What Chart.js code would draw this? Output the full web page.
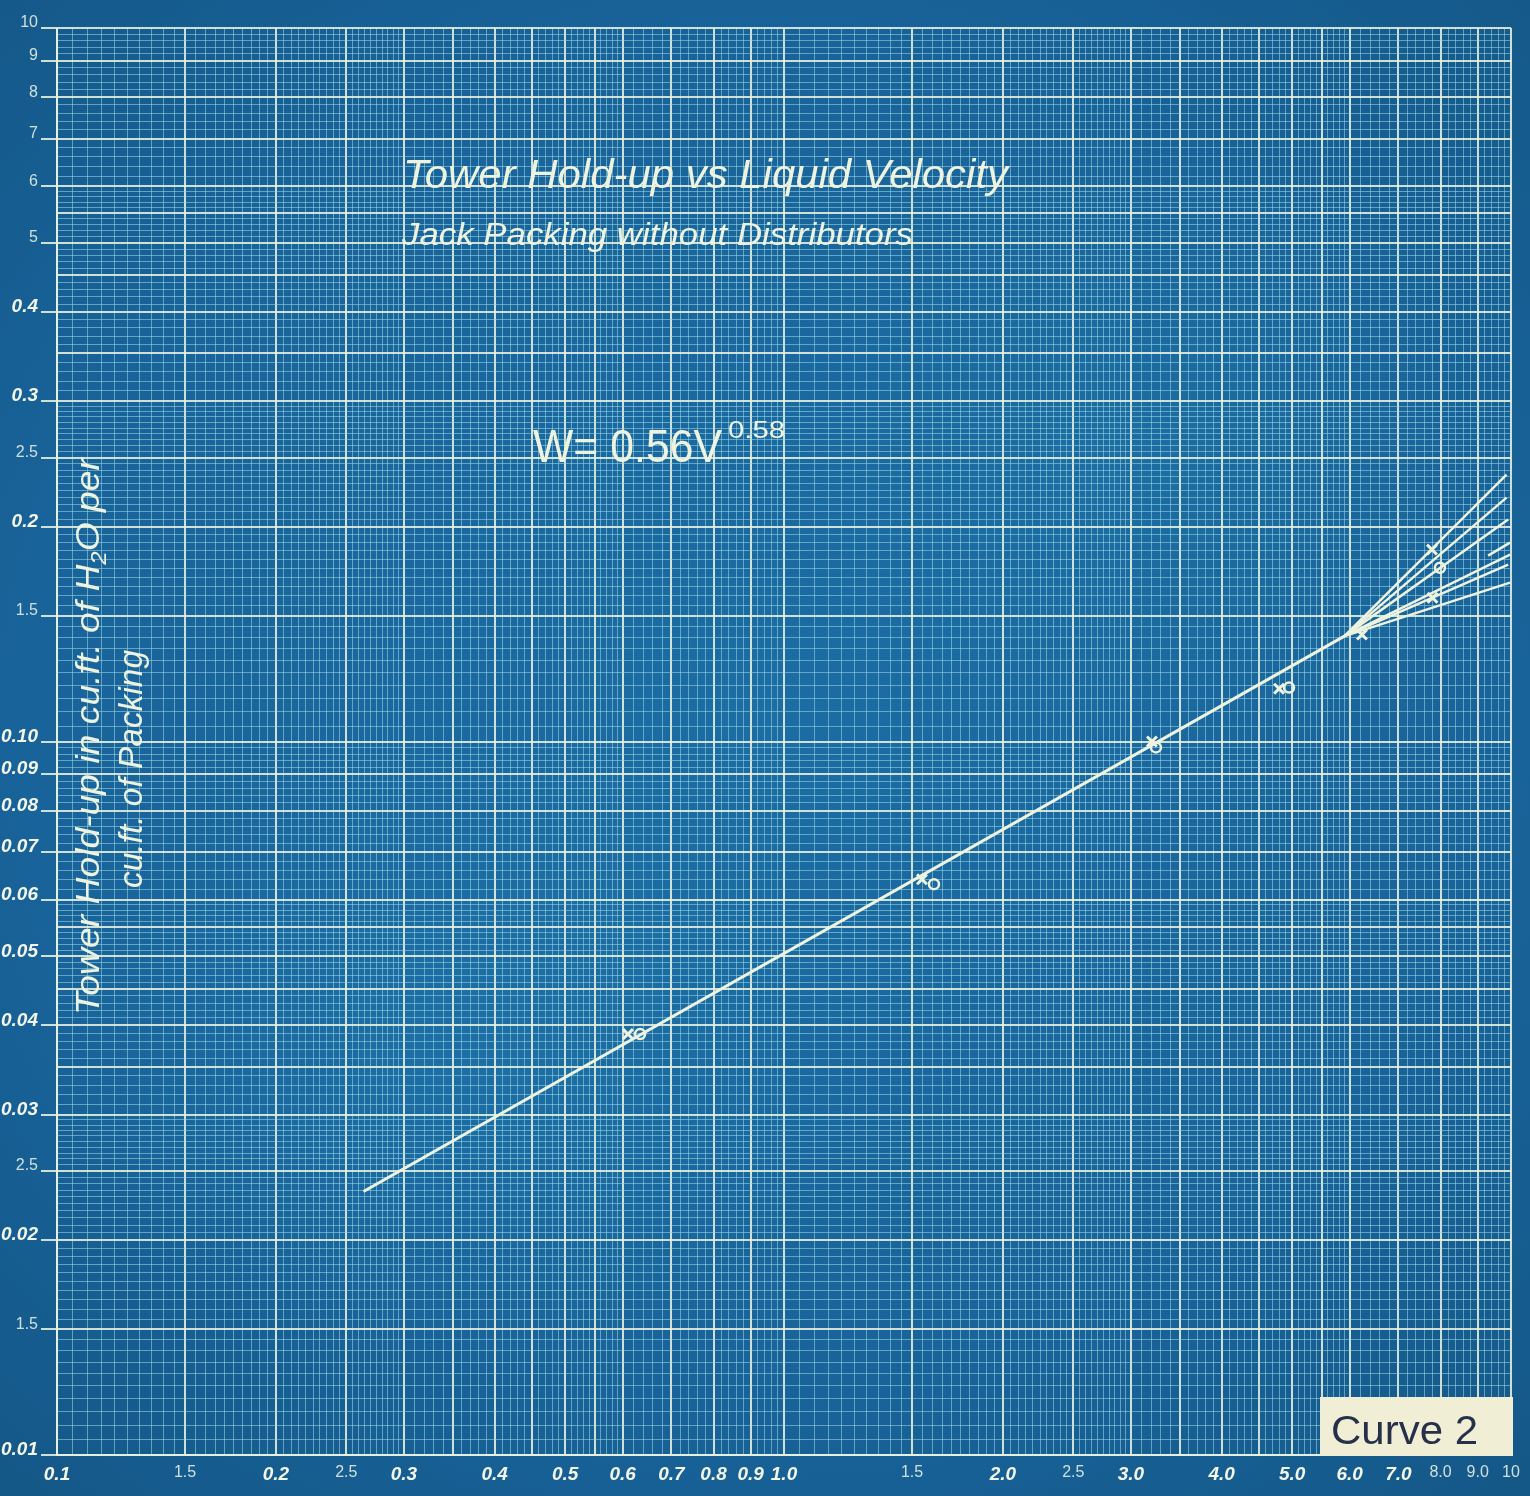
<!DOCTYPE html>
<html>
<head>
<meta charset="utf-8">
<title>Tower Hold-up vs Liquid Velocity</title>
<script src="https://cdn.jsdelivr.net/npm/chart.js@4.4.1/dist/chart.umd.min.js"></script>
<style>
  html, body { margin: 0; padding: 0; }
  body {
    width: 1530px;
    height: 1496px;
    overflow: hidden;
    background:
      radial-gradient(ellipse 40% 30% at 30% 70%, rgba(34,126,180,0.35), transparent 70%),
      radial-gradient(ellipse 35% 30% at 75% 30%, rgba(34,124,174,0.3), transparent 70%),
      radial-gradient(ellipse 80% 75% at 50% 48%, #1b6da4 0%, #18639a 60%, #135583 100%);
  }
  canvas { display: block; }
</style>
</head>
<body>
<canvas id="holdup" width="1530" height="1496"></canvas>
<script>
// fitted line W = 0.56 V^0.58 (liquid velocity, hold-up)
var fitV = [0.264, 5.9];
var fitW = [0.0234, 0.1405];

// branches fanning out past the last run
var fanEndV = [9.86, 9.86, 9.91, 9.97, 9.91, 9.97];
var fanEndW = [0.2366, 0.2197, 0.2047, 0.1828, 0.1770, 0.1670];
var shortBranchV = [9.30, 9.97];
var shortBranchW = [0.1822, 0.1900];

// measured runs
var crossV = [0.610, 1.548, 3.207, 4.797, 6.237, 7.785, 7.80];
var crossW = [0.0389, 0.0641, 0.1000, 0.1186, 0.1412, 0.1858, 0.159];
var circleV = [0.634, 1.608, 3.248, 4.951, 7.985];
var circleW = [0.0389, 0.0631, 0.0981, 0.1190, 0.1752];

// axis labels as lettered on the sheet
var xLabelValues = [0.1, 0.15, 0.2, 0.25, 0.3, 0.4, 0.5, 0.6, 0.7, 0.8, 0.9, 1, 1.5, 2, 2.5, 3, 4, 5, 6, 7, 8, 9, 10];
var xLabelText = ['0.1', '1.5', '0.2', '2.5', '0.3', '0.4', '0.5', '0.6', '0.7', '0.8', '0.9', '1.0', '1.5', '2.0', '2.5', '3.0', '4.0', '5.0', '6.0', '7.0', '8.0', '9.0', '10'];
var xLabelPlain = [0.15, 0.25, 1.5, 2.5, 8, 9, 10];

var yLabelValues = [1, 0.9, 0.8, 0.7, 0.6, 0.5, 0.4, 0.3, 0.25, 0.2, 0.15, 0.1, 0.09, 0.08, 0.07, 0.06, 0.05, 0.04, 0.03, 0.025, 0.02, 0.015, 0.01];
var yLabelText = ['10', '9', '8', '7', '6', '5', '0.4', '0.3', '2.5', '0.2', '1.5', '0.10', '0.09', '0.08', '0.07', '0.06', '0.05', '0.04', '0.03', '2.5', '0.02', '1.5', '0.01'];
var yLabelPlain = [1, 0.9, 0.8, 0.7, 0.6, 0.5, 0.25, 0.15, 0.025, 0.015];

// log paper ruling inside one decade: [from, to, step] and the heavy lines
var rulingSteps = [[1, 3, 0.05], [3, 5, 0.1], [5, 6, 0.1], [6, 10, 0.2]];
var rulingHeavy = [1, 1.5, 2, 2.5, 3, 3.5, 4, 4.5, 5, 5.5, 6, 7, 8, 9, 10];

var inkColor = '#eef3df';
var heavyLine = 'rgba(232,242,222,0.88)';
var fineLine = 'rgba(158,218,228,0.55)';
var handFont = { family: '"Liberation Sans", sans-serif', size: 19, style: 'italic', weight: 'bold' };
var plainFont = { family: '"Liberation Sans", sans-serif', size: 16 };

function indexOfValue(arr, v) {
    for (var i = 0; i < arr.length; i++) {
        if (Math.abs(arr[i] - v) < Math.abs(v) * 1e-6) return i;
    }
    return -1;
}

// every ruled line between lo and hi
function rulingTicks(lo, hi) {
    var out = [];
    for (var base = lo; base < hi * 0.999; base *= 10) {
        rulingSteps.forEach(function (seg) {
            var n = Math.round((seg[1] - seg[0]) / seg[2]);
            for (var i = 0; i < n; i++) {
                var m = seg[0] + i * seg[2];
                out.push({ value: parseFloat((m * base).toPrecision(8)) });
            }
        });
    }
    out.push({ value: hi });
    return out;
}

function isHeavy(v) {
    var m = v / Math.pow(10, Math.floor(Math.log10(v) + 1e-9));
    return indexOfValue(rulingHeavy, m) >= 0 || Math.abs(m - 10) < 1e-6;
}

function tickValue(ctx) {
    return ctx && ctx.tick ? ctx.tick.value : null;
}

function points(vs, ws) {
    return vs.map(function (v, i) { return { x: v, y: ws[i] }; });
}

var datasets = [];

// fan of branches, all from the end of the fitted line
fanEndV.forEach(function (v, i) {
    datasets.push({
        data: [{ x: fitV[1], y: fitW[1] }, { x: v, y: fanEndW[i] }],
        showLine: true, borderColor: inkColor, borderWidth: 2.5, pointRadius: 0
    });
});
datasets.push({
    data: points(shortBranchV, shortBranchW),
    showLine: true, borderColor: inkColor, borderWidth: 2.5, pointRadius: 0
});
datasets.push({
    data: points(fitV, fitW),
    showLine: true, borderColor: inkColor, borderWidth: 3, pointRadius: 0
});
datasets.push({
    data: points(crossV, crossW),
    showLine: false, pointStyle: 'crossRot', pointRadius: 7,
    borderColor: inkColor, pointBorderWidth: 3
});
datasets.push({
    data: points(circleV, circleW),
    showLine: false, pointStyle: 'circle', pointRadius: 5,
    borderColor: inkColor, backgroundColor: 'rgba(0,0,0,0)', pointBorderWidth: 2.5
});

// draws a text run squeezed to a given width, optionally turned upright
function drawRuns(ctx, runs, x, y, width, angle, color) {
    ctx.save();
    ctx.fillStyle = color;
    ctx.textAlign = 'left';
    ctx.textBaseline = 'alphabetic';
    var total = 0;
    runs.forEach(function (r) {
        ctx.font = r.font;
        r.w = ctx.measureText(r.t).width;
        total += r.w;
    });
    ctx.translate(x, y);
    if (angle) ctx.rotate(angle);
    ctx.scale(width / total, 1);
    var pos = 0;
    runs.forEach(function (r) {
        ctx.font = r.font;
        ctx.fillText(r.t, pos, r.dy || 0);
        pos += r.w;
    });
    ctx.restore();
}

var sheetText = {
    id: 'sheetText',
    afterDraw: function (chart) {
        var ctx = chart.ctx;
        var it = 'italic 40px "Liberation Sans", sans-serif';

        drawRuns(ctx, [{ t: 'Tower Hold-up vs Liquid Velocity', font: it }], 403, 188, 605, 0, inkColor);
        drawRuns(ctx, [{ t: 'Jack Packing without Distributors', font: 'italic 31px "Liberation Sans", sans-serif' }], 402, 245, 511, 0, inkColor);

        drawRuns(ctx, [{ t: 'W= 0.56V', font: '46px "Liberation Sans", sans-serif' }], 533, 462, 189, 0, inkColor);
        drawRuns(ctx, [{ t: '0.58', font: '24px "Liberation Sans", sans-serif' }], 728, 438, 57, 0, inkColor);

        // axis title, two upright lines
        var yt = 'italic 34px "Liberation Sans", sans-serif';
        drawRuns(ctx, [
            { t: 'Tower Hold-up in cu.ft. of H', font: yt },
            { t: '2', font: 'italic 22px "Liberation Sans", sans-serif', dy: 7 },
            { t: 'O per', font: yt }
        ], 99, 1015, 557, -Math.PI / 2, inkColor);
        drawRuns(ctx, [{ t: 'cu.ft. of Packing', font: yt }], 142, 888, 238, -Math.PI / 2, inkColor);

        // pasted label in the corner
        ctx.save();
        ctx.fillStyle = '#f1eed6';
        ctx.fillRect(1320, 1397, 193, 59);
        ctx.restore();
        drawRuns(ctx, [{ t: 'Curve 2', font: '40px "Liberation Sans", sans-serif' }], 1331, 1444, 147, 0, '#263049');
    }
};

function axisOptions(lo, hi, labelValues, labelText, labelPlain, isY) {
    return {
        type: 'logarithmic',
        min: lo,
        max: hi,
        afterBuildTicks: function (scale) {
            scale.ticks = rulingTicks(lo, hi);
        },
        afterFit: function (scale) {
            if (isY) scale.width = 57;
            else scale.height = 41;
        },
        border: { display: true, color: heavyLine, width: 2 },
        grid: {
            color: function (ctx) {
                var v = tickValue(ctx);
                return v !== null && isHeavy(v) ? heavyLine : fineLine;
            },
            lineWidth: function (ctx) {
                var v = tickValue(ctx);
                return v !== null && isHeavy(v) ? 2 : 1;
            },
            drawTicks: isY,
            tickLength: 16,
            tickWidth: 2,
            tickColor: function (ctx) {
                var v = tickValue(ctx);
                return v !== null && indexOfValue(labelValues, v) >= 0 ? heavyLine : 'rgba(0,0,0,0)';
            }
        },
        ticks: {
            autoSkip: false,
            maxRotation: 0,
            minRotation: 0,
            padding: isY ? 3 : 8,
            labelOffset: isY ? -5 : 0,
            callback: function (value) {
                var i = indexOfValue(labelValues, value);
                return i >= 0 ? labelText[i] : '';
            },
            font: function (ctx) {
                var v = tickValue(ctx);
                return v !== null && indexOfValue(labelPlain, v) >= 0 ? plainFont : handFont;
            },
            color: function (ctx) {
                var v = tickValue(ctx);
                return v !== null && indexOfValue(labelPlain, v) >= 0 ? '#cfe0dc' : '#f3f5e6';
            }
        }
    };
}

var chart = new Chart(document.getElementById('holdup'), {
    type: 'scatter',
    data: { datasets: datasets },
    options: {
        responsive: false,
        animation: false,
        devicePixelRatio: 1,
        layout: { padding: { top: 28, right: 19, left: 0, bottom: 0 } },
        plugins: {
            legend: { display: false },
            tooltip: { enabled: false }
        },
        scales: {
            x: axisOptions(0.1, 10, xLabelValues, xLabelText, xLabelPlain, false),
            y: axisOptions(0.01, 1, yLabelValues, yLabelText, yLabelPlain, true)
        }
    },
    plugins: [sheetText]
});
</script>
</body>
</html>
